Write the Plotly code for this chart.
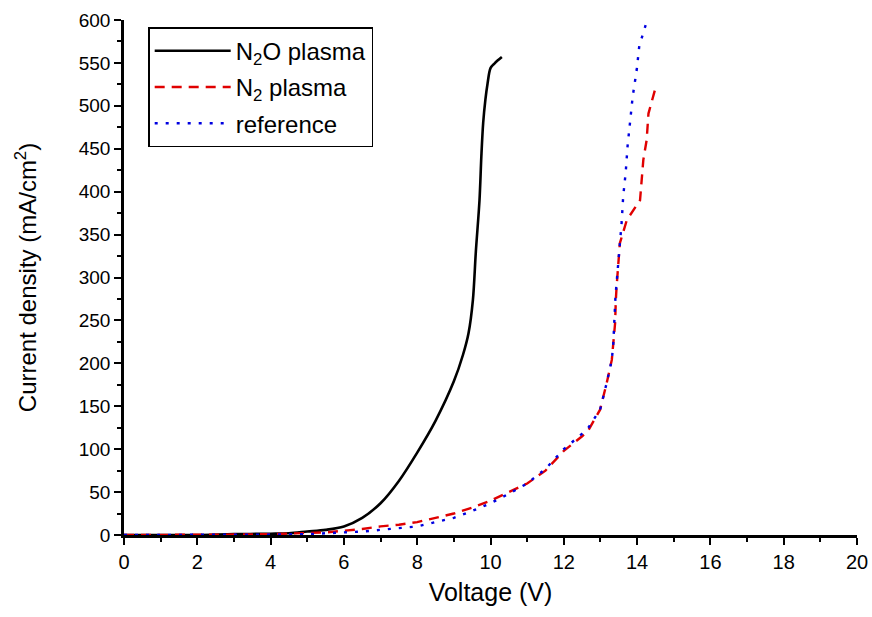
import plotly.graph_objects as go

# N2O plasma (black solid)
n2o_v = [0, 1, 2, 3, 4, 4.5, 5, 5.5, 6, 6.5, 7, 7.5, 8, 8.5, 9, 9.25, 9.4, 9.52, 9.6, 9.7, 9.75, 9.8, 9.86, 9.92, 10.0, 10.1, 10.2, 10.31]
n2o_j = [0, 0, 0, 1, 1.5, 2, 4, 6, 10, 20, 37, 63, 96, 133, 179, 210, 235, 274, 330, 390, 441, 480, 507, 526, 544, 549, 553, 557]

# N2 plasma (red dashed)
n2_v = [0, 1, 2, 3, 4, 5, 5.5, 6, 6.5, 7, 7.5, 8, 8.5, 9, 9.5, 10, 10.5, 11, 11.5, 12, 12.5, 12.67, 12.99, 13.08,
        13.17, 13.31, 13.35, 13.40, 13.42, 13.44, 13.53, 13.72, 14.08, 14.12, 14.17, 14.26, 14.31, 14.49, 14.55]
n2_j = [0, 0, 0, 0.5, 1, 2, 3, 5, 7, 10, 12, 15, 20, 25, 32, 40, 50, 60, 75, 98, 115, 122, 146, 161,
        177, 204, 223, 247, 274, 289, 340, 367, 390, 414, 437, 460, 491, 519, 523]

# reference (blue dotted)
ref_v = [0, 1, 2, 3, 4, 5, 5.5, 6, 6.5, 7, 7.5, 8, 8.5, 9, 9.5, 10, 10.5, 11, 11.5, 12, 12.5, 12.67, 12.99, 13.08,
         13.17, 13.31, 13.35, 13.41, 13.44, 13.49, 13.51, 13.55, 13.58, 13.62, 13.69, 13.74, 13.81, 13.88, 13.99,
         14.06, 14.17, 14.26]
ref_j = [0, 0, 0, 0, 0.5, 1, 2, 3, 4, 6, 8, 10, 15, 20, 28, 37, 48, 60, 77, 100, 118, 125, 146, 161,
         177, 204, 223, 278, 293, 320, 336, 352, 365, 394, 423, 453, 482, 511, 542,
         570, 585, 598]

FONT = "Liberation Sans, Arial, sans-serif"

fig = go.Figure()
fig.add_trace(go.Scatter(x=n2o_v, y=n2o_j, mode="lines", name="N<sub>2</sub>O plasma", legendgroup="a",
                         line=dict(color="black", width=2.6, dash="solid", shape="spline", smoothing=0.9)))
fig.add_trace(go.Scatter(x=n2_v, y=n2_j, mode="lines", name="N<sub>2</sub> plasma", legendgroup="b",
                         line=dict(color="#e00000", width=2.4, dash="10px,7px")))
fig.add_trace(go.Scatter(x=ref_v, y=ref_j, mode="lines", name="reference", legendgroup="c",
                         line=dict(color="#0000e0", width=2.4, dash="3px,8px")))

fig.update_layout(
    width=872, height=617,
    margin=dict(l=124, r=15, t=20, b=82),
    plot_bgcolor="white", paper_bgcolor="white",
    font=dict(family=FONT, color="black", size=20),
    showlegend=True,
    legend=dict(x=0.033, y=0.986, xanchor="left", yanchor="top",
                bordercolor="black", borderwidth=1.5, bgcolor="white",
                font=dict(family=FONT, size=24, color="black"),
                tracegroupgap=2, itemwidth=76),
    xaxis=dict(range=[0, 20], tick0=0, dtick=2, showline=True, linecolor="black", linewidth=2.5,
               ticks="outside", ticklen=7, tickwidth=2, tickcolor="black", automargin=False,
               minor=dict(dtick=1, ticks="outside", ticklen=4, tickwidth=2, tickcolor="black"),
               showgrid=False, zeroline=False,
               tickfont=dict(family=FONT, size=20, color="black"),
               title=dict(text="Voltage (V)", font=dict(family=FONT, size=25, color="black"), standoff=12)),
    yaxis=dict(range=[0, 600], tick0=0, dtick=50, showline=True, linecolor="black", linewidth=2.5,
               ticks="outside", ticklen=7, tickwidth=2, tickcolor="black", automargin=False,
               minor=dict(dtick=25, ticks="outside", ticklen=4, tickwidth=2, tickcolor="black"),
               showgrid=False, zeroline=False,
               tickfont=dict(family=FONT, size=19, color="black"),
               title=dict(text="Current density (mA/cm<sup>2</sup>)", font=dict(family=FONT, size=24, color="black"),
                          standoff=36)),
)

fig.write_html("out.html")
